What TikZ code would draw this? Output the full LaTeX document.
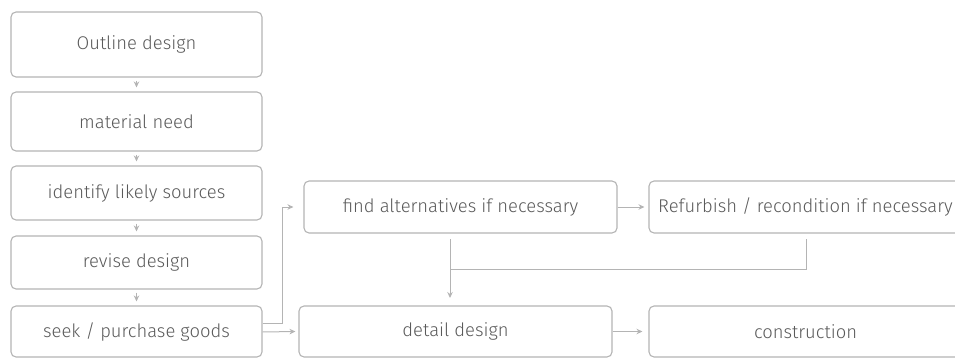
\documentclass[tikz,border=0pt]{standalone}
\usepackage{fontspec}
\setmainfont{Fira Sans}[UprightFont=* Light]
\usetikzlibrary{arrows.meta}
\definecolor{edge}{HTML}{B4B4B4}
\definecolor{ink}{HTML}{5A5A5A}
\tikzset{
  box/.style={draw=edge, line width=1.1pt, rounded corners=5pt, fill=white,
    minimum width=#1, inner sep=0pt, text=ink, font=\fontsize{18.4}{22}\selectfont},
  box/.default=251pt,
  link/.style={draw=edge, line width=1pt, -{Stealth[length=6pt,width=5.5pt]}},
  plain/.style={draw=edge, line width=1pt}
}
\begin{document}
\begin{tikzpicture}[x=1pt,y=-1pt]
\useasboundingbox (0,0) rectangle (955,358);
\clip (0,0) rectangle (955,358);
% left column
\node[box, minimum height=65pt] (outline) at (136.5,44.5) {Outline design};
\node[box, minimum height=59pt] (need) at (136.5,121.5) {material need};
\node[box, minimum height=54pt] (sources) at (136.5,193) {identify likely sources};
\node[box, minimum height=53pt] (revise) at (136.5,262.5) {revise design};
\node[box, minimum height=51pt] (seek) at (136.5,331.5) {seek / purchase goods};
% right part
\node[box=313pt, minimum height=52pt] (alt) at (460.5,207) {find alternatives if necessary};
\node[box=313pt, minimum height=52pt] (refurb) at (805.5,207) {Refurbish / recondition if necessary};
\node[box=313pt, minimum height=51pt] (detail) at (455.5,331.5) {detail design};
\node[box=313pt, minimum height=51pt] (constr) at (805.5,331.5) {construction};
% vertical chain
\draw[link] ([yshift=-3pt]outline.south) -- ([yshift=4pt]need.north);
\draw[link] ([yshift=-3pt]need.south) -- ([yshift=4pt]sources.north);
\draw[link] ([yshift=-3pt]sources.south) -- ([yshift=4pt]revise.north);
\draw[link] ([yshift=-3pt]revise.south) -- ([yshift=4pt]seek.north);
% branches out of seek
\coordinate (s1) at ([yshift=8.5pt]seek.east);
\draw[link] (s1) -- (282,323) |- ([xshift=-10pt]alt.west);
\draw[link] ([yshift=-0.5pt]seek.east) -- ([xshift=-3pt]detail.west);
% top row link
\draw[link] (alt.east) -- ([xshift=-4pt]refurb.west);
% merge into detail design
\coordinate (m) at (450,269);
\draw[plain] (450,239) -- (m);
\draw[plain] (m) -- (806,269) -- (806,239);
\draw[link] (m) -- (450,298);
% bottom row link
\draw[link] (detail.east) -- ([xshift=-6pt]constr.west);
\end{tikzpicture}
\end{document}
